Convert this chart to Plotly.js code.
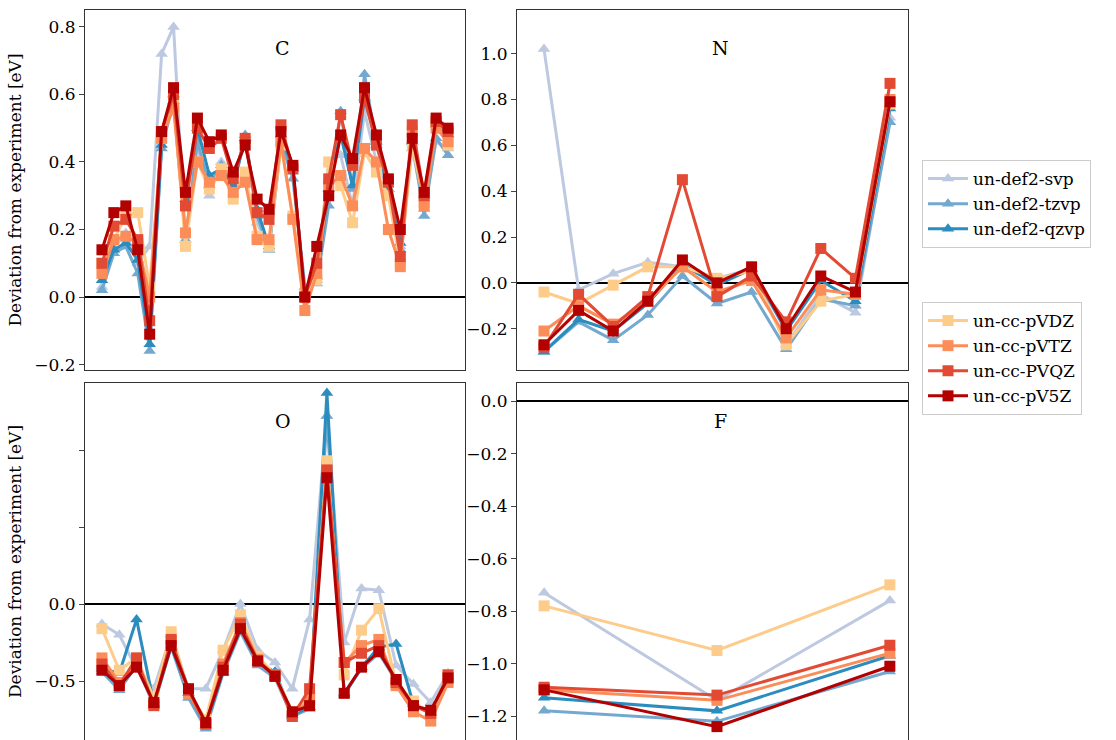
<!DOCTYPE html>
<html>
<head>
<meta charset="utf-8">
<script src="https://cdn.plot.ly/plotly-3.0.1.min.js"></script>
<style>body{margin:0;background:#fff;} #graph{width:1116px;height:740px;}</style>
</head>
<body>
<div id="graph"></div>
<script>
/* ---------------- data ---------------- */
var basisNames = ['un-def2-svp', 'un-def2-tzvp', 'un-def2-qzvp',
                  'un-cc-pVDZ', 'un-cc-pVTZ', 'un-cc-PVQZ', 'un-cc-pV5Z'];
var colors = ['#bdc9e1', '#74a9cf', '#2b8cbe', '#fdcc8a', '#fc8d59', '#e34a33', '#b30000'];

// C (30 molecules)
var cSvp  = [0.03,0.15,0.19,0.10,0.15,0.72,0.80,0.16,0.45,0.30,0.40,0.33,0.47,0.22,0.14,0.45,0.37,0.03,0.05,0.40,0.42,0.27,0.55,0.40,0.32,0.15,0.44,0.26,0.46,0.44];
var cTz   = [0.02,0.13,0.15,0.07,-0.16,0.44,0.58,0.17,0.46,0.33,0.39,0.33,0.48,0.24,0.14,0.46,0.35,0.03,0.04,0.27,0.55,0.32,0.66,0.45,0.32,0.14,0.46,0.24,0.47,0.42];
var cQz   = [0.05,0.14,0.16,0.11,-0.14,0.45,0.60,0.29,0.50,0.36,0.38,0.33,0.47,0.26,0.15,0.48,0.38,0.00,0.06,0.32,0.48,0.33,0.59,0.46,0.32,0.16,0.46,0.30,0.51,0.48];
var cVdz  = [0.10,0.17,0.24,0.25,0.03,0.47,0.58,0.15,0.40,0.32,0.38,0.29,0.37,0.18,0.15,0.45,0.24,0.01,0.05,0.40,0.33,0.22,0.43,0.37,0.30,0.10,0.45,0.28,0.51,0.45];
var cVtz  = [0.07,0.17,0.18,0.16,0.00,0.47,0.56,0.19,0.40,0.34,0.36,0.31,0.34,0.17,0.17,0.46,0.23,-0.04,0.07,0.33,0.36,0.27,0.44,0.40,0.20,0.09,0.49,0.27,0.50,0.46];
var cVqz  = [0.10,0.21,0.23,0.17,-0.07,0.49,0.60,0.27,0.50,0.44,0.47,0.35,0.47,0.25,0.23,0.51,0.38,0.00,0.10,0.35,0.54,0.39,0.59,0.45,0.34,0.12,0.51,0.30,0.52,0.49];
var cV5z  = [0.14,0.25,0.27,0.14,-0.11,0.49,0.62,0.31,0.53,0.46,0.48,0.37,0.45,0.29,0.26,0.49,0.39,0.00,0.15,0.30,0.48,0.41,0.62,0.48,0.35,0.20,0.47,0.31,0.53,0.50];

// N (11 molecules)
var nSvp  = [1.02,-0.03,0.04,0.09,0.07,0.02,0.06,-0.27,-0.05,-0.13,0.72];
var nTz   = [-0.30,-0.17,-0.25,-0.14,0.03,-0.09,-0.04,-0.29,-0.07,-0.10,0.70];
var nQz   = [-0.30,-0.16,-0.21,-0.09,0.08,-0.01,0.06,-0.21,0.01,-0.08,0.76];
var nVdz  = [-0.04,-0.09,-0.01,0.07,0.07,0.02,0.05,-0.27,-0.08,-0.05,0.78];
var nVtz  = [-0.21,-0.10,-0.18,-0.08,0.07,-0.04,0.01,-0.24,-0.03,-0.05,0.80];
var nVqz  = [-0.28,-0.05,-0.19,-0.06,0.45,-0.06,0.03,-0.17,0.15,0.02,0.87];
var nV5z  = [-0.27,-0.12,-0.21,-0.08,0.10,0.00,0.07,-0.20,0.03,-0.04,0.79];

// O (21 molecules)
var oSvp  = [-0.13,-0.20,-0.42,-0.55,-0.20,-0.55,-0.55,-0.30,0.00,-0.30,-0.38,-0.55,-0.10,1.22,-0.25,0.10,0.09,-0.40,-0.52,-0.64,-0.45];
var oTz   = [-0.44,-0.56,-0.40,-0.66,-0.28,-0.61,-0.81,-0.45,-0.18,-0.40,-0.48,-0.73,-0.68,1.22,-0.58,-0.42,-0.32,-0.50,-0.65,-0.70,-0.48];
var oQz   = [-0.42,-0.45,-0.10,-0.65,-0.27,-0.58,-0.79,-0.44,-0.16,-0.38,-0.44,-0.72,-0.67,1.37,-0.59,-0.41,-0.28,-0.26,-0.65,-0.71,-0.49];
var oVdz  = [-0.16,-0.43,-0.35,-0.61,-0.18,-0.57,-0.75,-0.30,-0.07,-0.34,-0.46,-0.70,-0.60,0.93,-0.46,-0.17,-0.03,-0.52,-0.63,-0.72,-0.46];
var oVtz  = [-0.35,-0.51,-0.38,-0.65,-0.24,-0.58,-0.78,-0.39,-0.12,-0.36,-0.47,-0.73,-0.62,0.87,-0.38,-0.27,-0.23,-0.53,-0.70,-0.76,-0.51];
var oVqz  = [-0.39,-0.53,-0.35,-0.66,-0.23,-0.56,-0.78,-0.41,-0.13,-0.37,-0.46,-0.73,-0.55,0.87,-0.38,-0.32,-0.27,-0.51,-0.66,-0.71,-0.46];
var oV5z  = [-0.43,-0.53,-0.41,-0.64,-0.27,-0.55,-0.77,-0.43,-0.16,-0.37,-0.47,-0.70,-0.66,0.82,-0.58,-0.41,-0.31,-0.49,-0.66,-0.69,-0.48];

// F (3 molecules)
var fSvp  = [-0.73,-1.14,-0.76];
var fTz   = [-1.18,-1.22,-1.03];
var fQz   = [-1.13,-1.18,-0.97];
var fVdz  = [-0.78,-0.95,-0.70];
var fVtz  = [-1.10,-1.14,-0.96];
var fVqz  = [-1.09,-1.12,-0.93];
var fV5z  = [-1.10,-1.24,-1.01];

var panels = [
    {name: 'C', xa: 'x',  ya: 'y',  series: [cSvp, cTz, cQz, cVdz, cVtz, cVqz, cV5z]},
    {name: 'N', xa: 'x2', ya: 'y2', series: [nSvp, nTz, nQz, nVdz, nVtz, nVqz, nV5z]},
    {name: 'O', xa: 'x3', ya: 'y3', series: [oSvp, oTz, oQz, oVdz, oVtz, oVqz, oV5z]},
    {name: 'F', xa: 'x4', ya: 'y4', series: [fSvp, fTz, fQz, fVdz, fVtz, fVqz, fV5z]}
];

/* ---------------- traces ---------------- */
var data = [];
panels.forEach(function(p, pi) {
    p.series.forEach(function(vals, si) {
        var isDef2 = si < 3;
        data.push({
            x: vals.map(function(v, i) { return i; }),
            y: vals,
            xaxis: p.xa,
            yaxis: p.ya,
            mode: 'lines+markers',
            name: basisNames[si],
            legend: isDef2 ? 'legend' : 'legend2',
            showlegend: pi === 0,
            line: {color: colors[si], width: 3},
            marker: {color: colors[si], size: 11,
                     symbol: isDef2 ? 'triangle-up' : 'square'},
            hoverinfo: 'skip'
        });
    });
});

/* ---------------- layout ---------------- */
var W = 1116, H = 740;
function xdom(a, b) { return [a / W, b / W]; }
function ydom(top, bot) { return [1 - bot / H, 1 - top / H]; }

var axFont = {family: 'DejaVu Serif, serif', size: 17, color: '#000'};
function xAxis(dom, range, anchor) {
    return {domain: dom, range: range, anchor: anchor, showticklabels: false,
            ticks: '', showgrid: false, zeroline: false, showline: true,
            mirror: true, linecolor: '#333', linewidth: 1};
}
function yAxis(dom, range, anchor, dtick, extra) {
    var a = {domain: dom, range: range, anchor: anchor, dtick: dtick,
             ticks: 'outside', ticklen: 5, tickformat: '.1f', tickfont: axFont,
             showgrid: false, zeroline: true, zerolinecolor: '#000', zerolinewidth: 1.5,
             showline: true, mirror: true, linecolor: '#333', linewidth: 1};
    for (var k in extra) a[k] = extra[k];
    return a;
}
var yTitle = {text: 'Deviation from experiment [eV]', font: axFont, standoff: 8};

var legendBase = {x: 922 / W, xanchor: 'left', yanchor: 'top',
                  bordercolor: '#ccc', borderwidth: 1, bgcolor: '#fff',
                  font: {family: 'DejaVu Serif, serif', size: 17, color: '#000'},
                  tracegroupgap: 0, itemwidth: 40};

var layout = {
    width: W, height: H,
    margin: {l: 0, r: 0, t: 0, b: 0},
    paper_bgcolor: '#fff', plot_bgcolor: '#fff',
    showlegend: true,
    xaxis:  xAxis(xdom(85, 465),  [-1.42, 30.42], 'y'),
    yaxis:  yAxis(ydom(10, 370),  [-0.216, 0.85], 'x', 0.2, {title: yTitle}),
    xaxis2: xAxis(xdom(517, 908), [-0.78, 10.52], 'y2'),
    yaxis2: yAxis(ydom(10, 370),  [-0.38, 1.19], 'x2', 0.2, {}),
    xaxis3: xAxis(xdom(85, 465),  [-0.98, 20.98], 'y3'),
    yaxis3: yAxis(ydom(383, 740), [-0.883, 1.435], 'x3', 0.5,
                  {title: yTitle, tickmode: 'array', tickvals: [-0.5, 0, 0.5, 1.0],
                   ticktext: ['\u22120.5', '0.0', '', '']}),
    xaxis4: xAxis(xdom(517, 908), [-0.157, 2.105], 'y4'),
    yaxis4: yAxis(ydom(383, 740), [-1.291, 0.069], 'x4', 0.2, {}),
    legend:  Object.assign({}, legendBase, {y: 1 - 160 / H}),
    legend2: Object.assign({}, legendBase, {y: 1 - 302 / H}),
    annotations: panels.map(function(p) {
        return {text: p.name, xref: p.xa + ' domain', yref: p.ya + ' domain',
                x: 0.52, y: 0.93, showarrow: false,
                font: {family: 'DejaVu Serif, serif', size: 19, color: '#000'}};
    })
};

Plotly.newPlot('graph', data, layout, {staticPlot: true});
</script>
</body>
</html>
